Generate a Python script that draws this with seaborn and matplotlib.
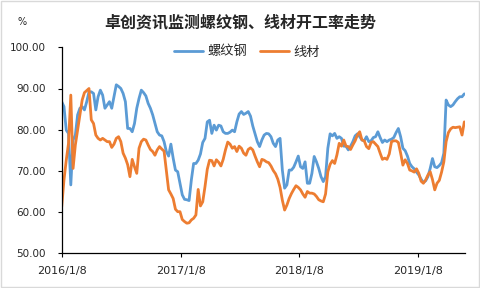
import numpy as np
import pandas as pd
import matplotlib
matplotlib.use("Agg")
import matplotlib.pyplot as plt
import seaborn as sns
from matplotlib.patches import Rectangle

title = "卓创资讯监测螺纹钢、线材开工率走势"
series_names = ["螺纹钢", "线材"]
start_date = "2016-01-08"
tick_dates = ["2016-01-08", "2017-01-08", "2018-01-08", "2019-01-08"]
tick_labels = ["2016/1/8", "2017/1/8", "2018/1/8", "2019/1/8"]
y_ticks = [50, 60, 70, 80, 90, 100]

rebar = [
    86.8, 85.6, 79.9, 79.1, 66.6, 77.5, 78.7, 83.6, 85.2, 85.6,
    84.8, 86.8, 89.2, 89.2, 88.8, 84.8, 88.0, 89.6, 88.4, 85.2,
    86.0, 86.8, 85.2, 88.0, 90.9, 90.5, 90.0, 88.8, 86.8, 80.3,
    80.3, 79.5, 81.5, 85.2, 87.6, 89.6, 89.0, 88.2, 86.4, 85.2,
    83.6, 81.5, 79.5, 78.7, 78.5, 77.1, 74.7, 73.6, 76.5, 73.1,
    70.2, 69.8, 67.0, 64.2, 63.1, 63.0, 62.8, 67.8, 71.8, 71.8,
    72.6, 74.1, 76.9, 77.9, 81.9, 82.3, 79.1, 81.1, 79.9, 81.1,
    80.9, 79.5, 79.1, 79.1, 79.4, 79.9, 79.5, 81.9, 83.8, 84.4,
    83.7, 84.0, 84.4, 83.3, 80.9, 79.0, 77.1, 75.9, 77.5, 78.7,
    79.1, 79.0, 78.3, 76.7, 75.9, 77.5, 77.9, 70.2, 65.8, 66.6,
    70.2, 70.2, 70.9, 72.2, 73.6, 71.0, 70.6, 72.2, 67.0, 67.0,
    69.4, 73.5, 72.2, 70.6, 68.6, 67.4, 68.6, 75.5, 79.0, 78.5,
    79.1, 77.9, 78.3, 77.9, 76.0, 76.0, 75.1, 76.0, 77.1, 78.5,
    79.0, 78.3, 77.5, 77.3, 78.3, 77.1, 77.3, 78.1, 78.3, 79.5,
    78.1, 76.9, 77.5, 77.1, 77.5, 77.7, 78.1, 79.3, 80.3, 78.3,
    75.5, 74.9, 73.6, 71.8, 71.0, 70.5, 69.7, 69.0, 68.0, 67.2,
    67.6, 68.6, 70.6, 73.0, 71.0, 70.8, 71.3, 72.0, 74.3, 87.2,
    86.0, 85.6, 86.0, 86.8, 87.5, 88.0, 88.0, 88.7,
]

wire = [
    61.3, 67.8, 72.6, 76.7, 88.4, 70.6, 76.3, 79.9, 83.6, 87.2,
    89.0, 89.5, 90.0, 82.4, 81.5, 78.7, 77.9, 77.5, 77.9, 77.5,
    77.1, 77.1, 75.7, 76.5, 77.9, 78.3, 77.1, 74.3, 73.1, 71.5,
    68.6, 72.8, 71.0, 69.4, 75.5, 77.1, 77.7, 77.5, 76.3, 75.2,
    74.7, 73.8, 75.1, 75.9, 75.3, 74.8, 70.2, 65.4, 64.4, 63.3,
    60.7, 60.1, 60.1, 58.2, 57.7, 57.3, 57.4, 58.1, 58.5, 59.3,
    65.5, 61.5, 62.5, 66.2, 70.4, 72.6, 72.5, 71.2, 72.7, 72.1,
    71.2, 72.8, 75.1, 77.0, 76.5, 75.5, 75.9, 74.7, 76.0, 75.5,
    74.3, 73.8, 75.2, 75.6, 75.1, 73.6, 72.2, 71.0, 72.8, 72.6,
    72.2, 72.0, 71.2, 70.1, 69.3, 68.0, 66.0, 62.9, 60.5, 61.7,
    63.3, 64.5, 65.5, 66.4, 66.0, 65.4, 64.4, 63.6, 65.0, 64.6,
    64.6, 64.4, 63.8, 63.0, 62.7, 62.5, 64.4, 69.8, 71.6, 72.5,
    71.8, 73.9, 76.7, 76.0, 77.5, 76.0, 75.9, 75.2, 76.3, 77.3,
    78.7, 79.5, 77.5, 77.3, 75.9, 75.4, 76.9, 77.1, 76.5, 75.9,
    74.3, 72.8, 73.1, 72.8, 74.1, 77.1, 77.3, 77.3, 76.9, 74.3,
    71.4, 72.7, 71.8, 70.2, 70.0, 69.7, 70.5, 69.4, 67.5, 67.0,
    67.8, 69.0, 69.8, 67.9, 65.4, 67.0, 67.7, 69.7, 72.2, 77.1,
    79.3, 80.2, 80.6, 80.5, 80.6, 80.7, 78.7, 81.9,
]

dates = pd.date_range(start_date, periods=len(rebar), freq="7D")
df = pd.DataFrame({
    "date": list(dates) * 2,
    "value": rebar + wire,
    "series": [series_names[0]] * len(rebar) + [series_names[1]] * len(wire),
})

sns.set_style("ticks")
plt.rcParams["font.family"] = ["Noto Sans CJK SC", "DejaVu Sans"]

fig = plt.figure(figsize=(4.8, 2.88), dpi=100)
ax = fig.add_axes([61.7 / 480, 1 - 253.3 / 288, (465 - 61.7) / 480, (253.3 - 47.3) / 288])

palette = {series_names[0]: "#5B9BD5", series_names[1]: "#ED7D31"}
sns.lineplot(data=df, x="date", y="value", hue="series", palette=palette,
             linewidth=2.0, ax=ax, legend=True)

ax.set_ylim(50, 100)
ax.set_yticks(y_ticks)
ax.set_yticklabels([f"{v:.2f}" for v in y_ticks], fontsize=7.5, family="DejaVu Sans")
ax.set_xlim(dates[0], dates[0] + pd.Timedelta(days=7 * 177.3))
ax.set_xticks([pd.Timestamp(d) for d in tick_dates])
ax.set_xticklabels(tick_labels, fontsize=8, family="DejaVu Sans")
ax.set_xlabel("")
ax.set_ylabel("")
for s in ["top", "right"]:
    ax.spines[s].set_visible(False)
for s in ["left", "bottom"]:
    ax.spines[s].set_color("black")
    ax.spines[s].set_linewidth(0.9)
ax.tick_params(axis="both", direction="out", length=3, width=0.8, color="black")
ax.tick_params(axis="y", pad=8.5)
ax.tick_params(axis="x", pad=6.5)
ax.grid(False)

handles, labels = ax.get_legend_handles_labels()
ax.get_legend().remove()
fig.legend(handles, labels, loc="center", bbox_to_anchor=(247 / 480, 1 - 52 / 288),
           ncol=2, frameon=False, fontsize=9.5, handlelength=2.2, handletextpad=0.3,
           columnspacing=1.0)

fig.text(240 / 480, 1 - 22 / 288, title, ha="center", va="center", fontsize=11.5,
         fontweight="bold")
fig.text(22 / 480, 1 - 22 / 288, "%", ha="center", va="center", fontsize=7,
         family="DejaVu Sans")

fig.patches.append(Rectangle((0.002, 0.003), 0.995, 0.994, transform=fig.transFigure,
                             fill=False, edgecolor="#D9D9D9", linewidth=1.0))

fig.savefig("out.png", dpi=100)
